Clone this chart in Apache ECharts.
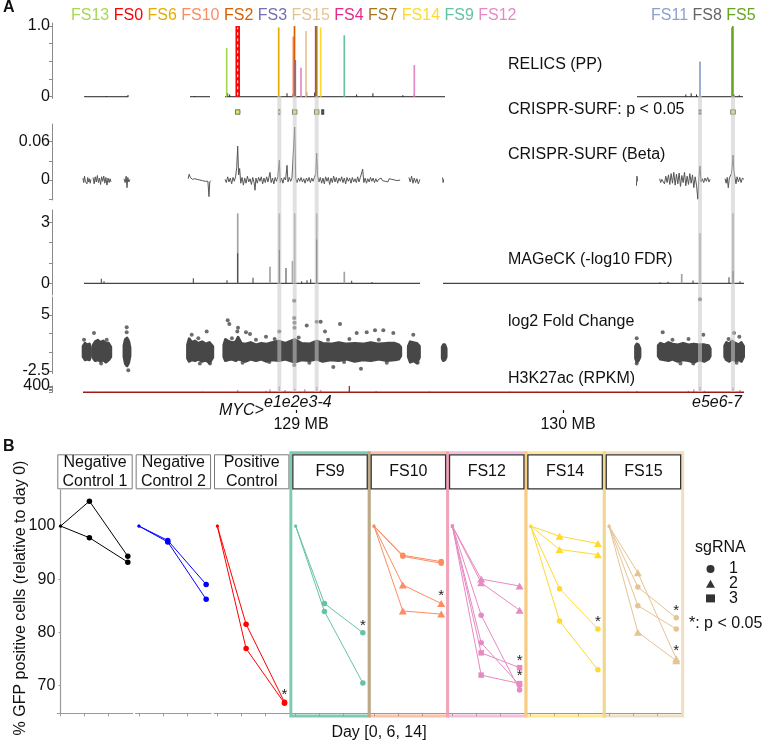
<!DOCTYPE html>
<html><head><meta charset="utf-8">
<script src="https://cdn.jsdelivr.net/npm/echarts@6/dist/echarts.min.js"></script>
<style>html,body{margin:0;padding:0;background:#fff}#c{width:763px;height:740px}</style>
</head><body><div id="c"></div>
<script>
const FONT = '"Liberation Sans", Arial, Helvetica, sans-serif';

// ---------------- Panel A data (genomic position in MB) ----------------
const fsNamesLeft = ['FS13','FS0','FS6','FS10','FS2','FS3','FS15','FS4','FS7','FS14','FS9','FS12'];
const fsNamesRight = ['FS11','FS8','FS5'];
const fsColors = {FS13:'#a6d854',FS0:'#ff0000',FS6:'#e6ab02',FS10:'#fc8d62',FS2:'#d95f02',FS3:'#7570b3',
  FS15:'#e5c494',FS4:'#e7298a',FS7:'#a6761d',FS14:'#ffd92f',FS9:'#66c2a5',FS12:'#e78ac3',
  FS11:'#8da0cb',FS8:'#666666',FS5:'#66a61e'};

const relicsHits = [['FS13',128.7404,0.69],['FS0',128.7817,1.0],['FS6',128.9352,0.98],['FS10',128.9899,0.85],
  ['FS2',128.9944,1.0],['FS3',128.9974,0.52],['FS12',129.0187,0.41],['FS15',129.0375,0.93],['FS4',129.0738,1.0],
  ['FS7',129.0775,1.0],['FS14',129.0925,0.98],['FS9',129.1809,0.87],['FS12',129.4431,0.45],['FS11',130.5131,0.50],
  ['FS8',130.6337,0.98],['FS5',130.6363,1.0]];
const relicsSmall = [[128.2100,0.01],[128.2900,0.01],[128.3708,0.025],[128.6200,0.01],[128.7441,0.05],[128.7516,0.03],
  [128.9663,0.05],[128.9888,0.04],[129.0400,0.07],[129.0700,0.06],[129.2270,0.03],[129.2880,0.05],[129.4000,0.02],
  [129.4430,0.03],[130.4600,0.03],[130.4800,0.05],[130.5000,0.03],[130.6400,0.03],[130.6600,0.02]];
const relicsSegments = [[128.2071,128.3719],[128.6030,128.6779],[128.7341,129.5581],[130.2772,130.6742]];

const surfSigPos = [128.7817,128.9375,128.9951,129.0775,129.1000,130.5131,130.6367];
const surfSigKind = ['sq','thin','sq','sq','dark','small','sq'];

const betaSegments = [
 [[128.202,0.003],[128.205,-0.004],[128.208,0.006],[128.211,-0.002],[128.214,0.001],[128.217,-0.006],[128.220,0.004],[128.223,-0.003],[128.226,0.002],[128.229,-0.005],[128.232,0.001]],
 [[128.240,0.004],[128.244,-0.006],[128.248,0.005],[128.252,-0.003],[128.256,0.007],[128.260,-0.004],[128.264,0.003],[128.268,-0.007],[128.272,0.005],[128.276,-0.002],[128.280,0.006],[128.284,-0.005],[128.288,0.004],[128.292,-0.008],[128.296,0.003],[128.300,-0.004],[128.304,0.002],[128.307,-0.003]],
 [[128.356,0.002],[128.360,-0.004],[128.364,0.006],[128.367,-0.012],[128.370,0.004],[128.374,-0.003],[128.378,0.001]],
 [[128.596,0.002],[128.600,0.009],[128.604,0.004],[128.608,0.006],[128.612,0.001],[128.616,0.003],[128.620,0.002],[128.625,0.004],[128.630,0.001],[128.635,0.003],[128.640,0.000],[128.645,0.002],[128.650,-0.001],[128.655,0.001],[128.660,-0.002],[128.665,0.000],[128.670,-0.002],[128.674,-0.026],[128.677,-0.003],[128.681,-0.001]],
 [[128.734,0.001],[128.739,-0.004],[128.744,0.005],[128.749,-0.003],[128.754,0.003],[128.759,-0.006],[128.764,0.004],[128.769,-0.002],[128.774,0.006],[128.778,0.020],[128.7817,0.053],[128.785,0.008],[128.789,0.018],[128.793,-0.005],[128.798,0.004],[128.803,-0.008],[128.808,0.003],[128.813,-0.005],[128.818,0.006],[128.823,-0.003],[128.828,0.002],[128.833,-0.007],[128.838,0.004],[128.843,-0.004],[128.8464,-0.016],[128.850,0.003],[128.855,-0.005],[128.860,0.004],[128.865,-0.002],[128.870,0.005],[128.875,-0.006],[128.880,0.003],[128.885,-0.004],[128.890,0.005],[128.895,-0.003],[128.9026,0.012],[128.907,-0.004],[128.912,0.003],[128.917,-0.006],[128.922,0.004],[128.927,-0.002],[128.932,0.005],[128.9375,0.031],[128.941,-0.004],[128.946,0.003],[128.951,-0.005],[128.956,0.004],[128.961,0.000],[128.9663,0.023],[128.970,-0.003],[128.975,0.004],[128.980,-0.002],[128.985,0.003],[128.990,0.001],[128.9951,0.083],[128.999,0.002],[129.004,-0.004],[129.009,0.003],[129.014,-0.002],[129.019,0.004],[129.024,-0.003],[129.029,0.002],[129.034,-0.005],[129.039,0.003],[129.044,-0.002],[129.049,0.004],[129.054,-0.004],[129.059,0.003],[129.064,-0.002],[129.069,0.004],[129.074,0.010],[129.0775,0.042],[129.081,0.006],[129.086,-0.003],[129.091,0.004],[129.096,-0.005],[129.101,0.003],[129.106,-0.006],[129.111,0.005],[129.116,-0.002],[129.121,0.004],[129.126,-0.007],[129.131,0.003],[129.136,-0.004],[129.141,0.006],[129.146,-0.003],[129.151,0.004],[129.156,-0.005],[129.161,0.003],[129.166,-0.002],[129.171,0.005],[129.176,-0.004],[129.181,0.003],[129.186,-0.006],[129.191,0.004],[129.196,-0.002],[129.201,0.003],[129.206,-0.005],[129.211,0.004],[129.216,-0.003],[129.221,0.002],[129.226,-0.004],[129.231,0.005],[129.236,-0.003],[129.241,0.004],[129.2498,0.017],[129.254,-0.004],[129.259,0.003],[129.264,-0.005],[129.269,0.002],[129.274,-0.003],[129.279,0.004],[129.284,-0.002],[129.289,0.003],[129.294,-0.004],[129.299,0.002],[129.304,-0.003],[129.309,0.001],[129.314,-0.002],[129.319,0.003],[129.324,-0.001],[129.329,0.002],[129.334,-0.002],[129.339,0.001],[129.344,-0.003],[129.349,0.002],[129.354,0.000],[129.359,0.001],[129.364,-0.001],[129.369,0.000],[129.374,0.001],[129.379,-0.001],[129.384,0.000],[129.390,0.000]],
 [[129.423,0.004],[129.428,-0.003],[129.433,0.006],[129.438,-0.005],[129.443,0.003],[129.448,-0.004],[129.453,0.002],[129.458,-0.006],[129.464,0.001]],
 [[129.549,0.004],[129.551,-0.004],[129.553,0.001]],
 [[130.275,-0.009],[130.277,0.006],[130.279,-0.002]],
 [[130.362,0.002],[130.366,-0.004],[130.370,0.001],[130.375,0.004],[130.380,-0.006],[130.385,0.006],[130.390,-0.004],[130.395,0.008],[130.400,-0.007],[130.405,0.010],[130.410,-0.005],[130.415,0.012],[130.420,-0.008],[130.425,0.009],[130.430,-0.006],[130.435,0.011],[130.440,-0.010],[130.445,0.007],[130.450,-0.004],[130.455,0.012],[130.460,-0.009],[130.465,0.006],[130.470,-0.007],[130.475,0.010],[130.480,-0.005],[130.485,0.008],[130.490,-0.012],[130.495,0.005],[130.500,-0.008],[130.505,-0.030],[130.509,0.004],[130.5131,0.022],[130.517,-0.003],[130.522,0.002],[130.527,-0.004],[130.532,0.003],[130.537,-0.002],[130.542,0.004],[130.547,-0.003],[130.551,0.001]],
 [[130.607,0.002],[130.611,-0.005],[130.615,0.004],[130.619,-0.012],[130.623,0.003],[130.627,0.006],[130.631,0.010],[130.634,0.022],[130.6367,0.039],[130.640,0.015],[130.644,0.004],[130.648,-0.006],[130.652,0.005],[130.657,-0.003],[130.662,0.004],[130.667,-0.004],[130.672,0.003],[130.678,0.001]]
];

const mageckSegments = [[128.2060,129.4644],[129.5506,130.6779]];
const mageckLight = [[128.7817,3.44],[128.9375,3.44],[128.9026,0.82],[128.9869,1.10],[128.9951,3.44],[129.0775,3.44],
  [130.5131,2.46],[130.6367,3.44],[129.1809,0.57],[130.4446,0.46]];
const mageckDark = [[128.7817,1.48],[128.9375,1.64],[128.9625,0.75],[129.0775,2.16],[128.7416,0.15],[128.8390,0.27],
  [128.6154,0.25],[128.2708,0.22],[128.2809,0.10],[129.2086,0.12],[129.0213,0.10],[129.0412,0.15],[129.0551,0.20],
  [129.2846,0.06],[130.4869,0.14],[130.3633,0.05],[130.3933,0.08],[130.6217,0.30],[130.6629,0.10],[130.6367,0.60]];

// log2 fold change: dense guide clouds as [pos, low edge, high edge], plus outlying guides
const fcClouds = [
 [[128.203,-0.6,0.8],[128.210,-1.0,1.2],[128.218,-0.9,1.0],[128.226,-1.0,1.1],[128.230,-0.5,0.6]],
 [[128.240,-0.7,0.9],[128.248,-1.1,1.4],[128.258,-1.0,1.6],[128.268,-1.2,1.3],[128.278,-1.0,1.5],[128.288,-1.3,1.2],[128.298,-1.0,1.2],[128.306,-0.6,0.7]],
 [[128.356,-0.6,0.9],[128.361,-1.5,1.7],[128.367,-1.8,1.9],[128.373,-1.4,1.5],[128.378,-0.5,0.6]],
 [[128.594,-0.8,1.0],[128.600,-1.2,1.8],[128.610,-1.0,1.3],[128.622,-1.1,1.5],[128.634,-0.9,1.2],[128.648,-1.2,1.4],[128.662,-1.0,1.1],[128.676,-1.4,1.3],[128.688,-0.7,0.8]],
 [[128.730,-0.6,1.0],[128.736,-1.1,1.7],[128.745,-1.0,1.5],[128.760,-0.9,1.3],[128.775,-1.1,1.4],[128.783,-0.9,2.0],[128.795,-1.0,1.2],[128.810,-1.2,1.1],[128.830,-0.9,1.3],[128.850,-1.1,1.0],[128.870,-0.9,1.2],[128.890,-1.2,1.1],[128.910,-1.0,1.3],[128.935,-1.1,1.5],[128.960,-0.9,1.2],[128.995,-1.3,1.7],[129.020,-1.0,1.2],[129.050,-1.1,1.1],[129.078,-0.9,1.5],[129.100,-1.2,1.2],[129.130,-1.0,1.1],[129.160,-1.1,1.3],[129.190,-0.9,1.1],[129.220,-1.2,1.2],[129.250,-1.0,1.1],[129.280,-1.1,1.3],[129.310,-0.9,1.1],[129.340,-1.1,1.2],[129.370,-1.0,1.2],[129.385,-0.9,1.0],[129.392,-0.5,0.7]],
 [[129.421,-0.6,0.8],[129.428,-1.3,1.4],[129.440,-1.1,1.3],[129.452,-1.4,1.2],[129.462,-0.7,0.8]],
 [[129.548,-0.8,0.7],[129.552,-1.1,1.0],[129.557,-1.0,1.0],[129.562,-0.6,0.5]],
 [[130.272,-0.8,0.8],[130.277,-1.3,1.1],[130.282,-1.1,1.0],[130.288,-0.6,0.5]],
 [[130.357,-0.5,0.9],[130.365,-0.9,1.2],[130.380,-1.0,1.0],[130.395,-1.1,1.3],[130.410,-0.9,1.1],[130.430,-1.2,1.0],[130.450,-1.0,1.2],[130.470,-1.1,1.0],[130.490,-1.3,1.1],[130.510,-1.0,1.0],[130.530,-1.2,1.0],[130.545,-0.9,0.9],[130.551,-0.5,0.5]],
 [[130.606,-0.6,0.9],[130.612,-1.0,1.3],[130.622,-1.2,1.1],[130.634,-0.9,1.5],[130.646,-1.1,1.2],[130.658,-1.0,1.0],[130.668,-1.2,1.3],[130.676,-0.6,0.8]]
];
const fcOutliers = [[128.7442,4.3],[128.7502,3.8],[128.7802,2.8],[128.7828,3.3],[128.8127,2.7],[128.8277,2.45],[128.6655,2.8],
 [128.6094,2.36],[128.6341,1.9],[128.3659,3.36],[128.3659,2.7],[128.3719,-2.4],[128.2434,2.6],[128.2060,1.7],[128.2910,1.7],
 [128.9375,2.8],[128.9936,6.9],[128.9936,4.6],[128.9944,3.95],[128.9944,3.3],[129.0401,3.6],[129.0775,4.1],[129.0925,4.1],
 [129.1648,3.8],[129.2648,2.7],[129.2273,2.6],[129.3270,2.95],[129.2959,2.95],[129.3644,2.6],[129.1397,-1.96],[129.2434,-2.2],
 [128.9936,-1.7],[128.6779,-1.5],[129.1086,2.8],[128.8876,2.1],[129.4393,2.36],[129.4558,-1.4],[130.2760,1.9],[130.2760,-1.5],
 [130.3734,2.7],[130.4880,-1.5],[130.5131,7.1],[130.5255,2.36],[130.6404,2.6],[130.6603,2.1],
 [128.760,1.9],[128.850,1.7],[128.920,1.8],[129.010,2.0],[129.120,1.7],[129.200,1.8],[129.310,1.7],[130.410,1.7],[130.470,1.8],
 [130.620,1.8],[128.800,-1.4],[128.900,-1.3],[129.050,-1.4],[129.180,-1.3],[129.340,-1.4],[130.440,-1.5],[130.650,-1.4],
 [128.270,-1.5],[128.640,-1.5]];

const h3Span = [128.2022,130.6779];
const h3Peaks = [[128.7817,150],[128.8876,100],[128.9026,200],[128.9375,380],[128.9588,150],[128.9951,250],[129.0326,200],
 [129.0775,350],[129.0925,150],[129.2000,60],[129.3000,80],[129.5000,60],[129.8000,50],[129.9000,40],[130.1000,40],
 [130.2772,100],[130.4700,100],[130.4900,200],[130.5131,350],[130.5300,100],[130.6367,300],[130.6629,150],[128.3000,40],[128.6500,50]];
const h3Strong = [[129.1996,400]];

const highlightPos = [128.9375,128.9951,129.0775,130.5131,130.6367];
const mycPos = 128.7817;
const genomeTicks = [129, 130];

// ---------------- Panel B data ----------------
const sgDays = [0, 6, 14];
// [sgRNA shape, day0, day6, day14, significant]
const negCtrl1 = [['circle',100,104.7,94.3,0],['circle',100,97.8,93.2,0]];
const negCtrl2 = [['circle',100,97.3,89.0,0],['circle',100,97.0,86.2,0]];
const posCtrl  = [['circle',100,81.5,66.8,1],['circle',100,76.9,66.6,0]];
const fs9Data  = [['circle',100,85.4,79.9,1],['circle',100,83.9,70.4,0]];
const fs10Data = [['circle',100,94.5,93.3,0],['circle',100,94.3,93.0,0],['triangle',100,88.9,85.4,1],['triangle',100,84.0,83.4,0]];
const fs12Data = [['triangle',100,90.0,88.7,0],['triangle',100,89.3,84.15,0],['circle',100,83.2,69.1,0],['circle',100,78.0,70.0,0],['square',100,76.1,73.3,1],['square',100,71.9,70.3,1]];
const fs14Data = [['triangle',100,98.1,96.7,0],['triangle',100,95.6,94.6,0],['circle',100,88.2,80.6,1],['circle',100,82.1,72.9,0]];
const fs15Data = [['triangle',100,91.2,75.0,1],['triangle',100,80.0,74.6,0],['circle',100,88.5,82.7,1],['circle',100,85.0,80.6,0]];
const panelLabels = ['Negative\nControl 1','Negative\nControl 2','Positive\nControl','FS9','FS10','FS12','FS14','FS15'];
const panelData = [negCtrl1,negCtrl2,posCtrl,fs9Data,fs10Data,fs12Data,fs14Data,fs15Data];
const panelColors = ['#000000','#0000ff','#ff0000','#66c2a5','#fc8d62','#e78ac3','#ffd92f','#e5c494'];
const panelIsFS = [false,false,false,true,true,true,true,true];
const yTicksB = [70,80,90,100];
const sgLegend = ['1','2','3'];

// ---------------- layout ----------------
const xMin = 128.08614, xMax = 130.70037;
const GL = 52, GW = 698;
const grids = [
  {left:GL,width:GW,top:23,height:75.5},   // 0 RELICS
  {left:GL,width:GW,top:106,height:12},    // 1 SURF p<0.05
  {left:GL,width:GW,top:124,height:76},    // 2 beta
  {left:GL,width:GW,top:210,height:85},    // 3 MAGeCK
  {left:GL,width:GW,top:297,height:76.5},  // 4 log2FC
  {left:GL,width:GW,top:386,height:6.3},   // 5 H3K27ac
  {left:GL,width:GW,top:380,height:30},    // 6 genome axis
  {left:GL,width:GW,top:96,height:296}     // 7 highlights
];
const PL0 = 57.3, PSTEP = 78.35, PW = 75.4, PTOP = 490, PH = 223.3;
for (let i = 0; i < 8; i++) grids.push({left:PL0+i*PSTEP, width:PW, top:PTOP, height:PH});

const axisGrey = '#8a8a8a';
const xAxes = [], yAxes = [];
function yA(gi, min, max, ticks, labels, fmt) {
  return {type:'value', gridIndex:gi, min, max, splitLine:{show:false},
    axisLine:{show:true, lineStyle:{color:axisGrey, width:1}},
    axisTick:{show:true, length:3, customValues:ticks, lineStyle:{color:axisGrey}},
    axisLabel:{customValues:labels, fontSize:16, fontFamily:FONT, color:'#111', margin:2, formatter:fmt}};
}
for (let gi = 0; gi < 8; gi++) {
  if (gi === 6) {
    xAxes.push({type:'value', gridIndex:gi, min:xMin, max:xMax, axisLine:{show:false}, splitLine:{show:false},
      axisTick:{show:true, length:3, customValues:[mycPos].concat(genomeTicks), lineStyle:{color:'#111', width:1.2}},
      axisLabel:{customValues:genomeTicks, fontSize:16, fontFamily:FONT, color:'#111', margin:7,
        padding:[0,0,0,10], formatter:v => v + ' MB'}});
  } else {
    xAxes.push({type:'value', gridIndex:gi, min:xMin, max:xMax, show:false});
  }
}
yAxes.push(yA(0,-0.025,1.043,[0,0.25,0.5,0.75,1],[0,1],v => v === 1 ? '1.0' : '0'));
yAxes.push({type:'value', gridIndex:1, min:-1, max:1, show:false});
yAxes.push(yA(2,-0.0313,0.0877,[-0.03,0,0.03,0.06],[0,0.06],v => v === 0 ? '0' : '0.06'));
yAxes.push(yA(3,-0.575,3.605,[0,1,2,3],[0,3],v => String(v)));
yAxes.push(yA(4,-2.835,7.41,[-2.5,0,2.5,5],[-2.5,5],v => String(v)));
yAxes.push(yA(5,0,400,[0,100,200,300,400],[400],v => String(v)));
yAxes.push({type:'value', gridIndex:6, min:0, max:1, show:false});
yAxes.push({type:'value', gridIndex:7, min:0, max:1, show:false});
for (let i = 0; i < 8; i++) {
  const gi = 8 + i;
  xAxes.push({type:'value', gridIndex:gi, min:-0.69, max:15.02, splitLine:{show:false},
    axisLine:{show:true, lineStyle:{color:'#9a9a9a', width:1.2}},
    axisTick:{show:true, length:3, customValues:[0,5,10], lineStyle:{color:'#9a9a9a'}},
    axisLabel:{show:false}});
  if (i === 0) {
    yAxes.push({type:'value', gridIndex:gi, min:64.7, max:106.8, splitLine:{show:false},
      axisLine:{show:true, lineStyle:{color:'#9a9a9a', width:1.2}},
      axisTick:{show:true, length:2, customValues:yTicksB, lineStyle:{color:'#9a9a9a'}},
      axisLabel:{customValues:yTicksB, fontSize:16, fontFamily:FONT, color:'#111', margin:2}});
  } else {
    yAxes.push({type:'value', gridIndex:gi, min:64.7, max:106.8, show:false});
  }
}

// ---------------- series ----------------
const series = [];
function spikes(gi, data, colorFn, widthFn, z) {
  return {type:'custom', xAxisIndex:gi, yAxisIndex:gi, z, silent:true, animation:false,
    data: data.map((d, k) => ({value:[d[0], d[1], widthFn(d, k)], itemStyle:{color:colorFn(d, k)}})),
    renderItem(params, api) {
      const x = api.value(0), y = api.value(1), w = api.value(2);
      const p0 = api.coord([x, 0]), p1 = api.coord([x, y]);
      return {type:'rect', shape:{x:p0[0]-w/2, y:p1[1], width:w, height:p0[1]-p1[1]},
        style:{fill:api.visual('color')}};
    }};
}
function segLine(gi, pts, color, width, z) {
  return {type:'line', xAxisIndex:gi, yAxisIndex:gi, data:pts, symbol:'none', z, silent:true, animation:false,
    lineStyle:{color, width}};
}
// RELICS
relicsSegments.forEach(s => series.push(segLine(0, [[s[0],0],[s[1],0]], '#222', 1, 2)));
series.push(spikes(0, relicsSmall, () => '#222', () => 1, 3));
const relicsXY = relicsHits.map(h => [h[1], h[2], h[0]]);
series.push(spikes(0, relicsXY, d => fsColors[d[2]], d => d[2] === 'FS0' ? 4.5 : 1.7, 4));
relicsHits.filter(h => h[0] === 'FS0').forEach(h => series.push({type:'line', xAxisIndex:0, yAxisIndex:0, z:5,
  symbol:'none', silent:true, animation:false, data:[[h[1],0.02],[h[1],h[2]-0.02]],
  lineStyle:{color:'#fff', width:1, type:[3,3]}}));
// CRISPR-SURF significance
const sigSize = {sq:[4.5,4.5], thin:[1.5,4.5], dark:[2.5,4.5], small:[2,3.5]};
series.push({type:'scatter', xAxisIndex:1, yAxisIndex:1, silent:true, animation:false, z:4,
  data: surfSigPos.map((p, k) => ({value:[p, 0], symbol:'rect', symbolSize:sigSize[surfSigKind[k]],
    itemStyle:{color: surfSigKind[k] === 'dark' ? '#222' : '#d4dc3c', borderColor:'#333', borderWidth:0.8}}))});
// Beta
betaSegments.forEach(s => series.push(segLine(2, s, '#555', 1, 3)));
// MAGeCK
mageckSegments.forEach(s => series.push(segLine(3, [[s[0],0],[s[1],0]], '#444', 1.2, 2)));
series.push(spikes(3, mageckLight, () => '#a3a3a3', () => 1.7, 3));
series.push(spikes(3, mageckDark, () => '#3c3c3c', () => 1, 4));
// log2 FC clouds
series.push({type:'custom', xAxisIndex:4, yAxisIndex:4, z:3, silent:true, animation:false,
  data: fcClouds.map((c, i) => [c[0][0], 0, i]),
  renderItem(params, api) {
    const c = fcClouds[api.value(2)];
    const up = c.map(p => api.coord([p[0], p[2]]));
    const lo = c.slice().reverse().map(p => api.coord([p[0], p[1]]));
    return {type:'polygon', shape:{points:up.concat(lo)},
      style:{fill:'#474747', stroke:'#474747', lineWidth:3, lineJoin:'round'}};
  }});
series.push({type:'scatter', xAxisIndex:4, yAxisIndex:4, z:4, silent:true, animation:false,
  symbolSize:4, itemStyle:{color:'#474747'}, data:fcOutliers});
// H3K27ac
series.push(spikes(5, h3Peaks, () => '#d8a0a0', () => 1.5, 3));
series.push(spikes(5, h3Strong, () => '#9e1b1b', () => 1.2, 4));
series.push(segLine(5, [[h3Span[0],0],[h3Span[1],0]], '#9e1b1b', 1.4, 5));
// highlight bands
series.push({type:'custom', xAxisIndex:7, yAxisIndex:7, z:20, silent:true, animation:false,
  data: highlightPos.map(p => [p, 0]),
  renderItem(params, api) {
    const cs = params.coordSys;
    const px = api.coord([api.value(0), 0])[0];
    return {type:'rect', shape:{x:px-2, y:cs.y, width:4, height:cs.height},
      style:{fill:'rgba(200,200,200,0.55)'}};
  }});

// Panel B lines
const symMap = {circle:'circle', triangle:'triangle', square:'rect'};
const sizeMap = {circle:5.5, triangle:[8,7], square:5.5};
const starLabel = {show:true, formatter:'*', position:'top', distance:-3, fontSize:15, fontFamily:FONT, color:'#222'};
panelData.forEach((guides, i) => {
  guides.forEach(g => {
    const shape = g[0], vals = g.slice(1, 4), sig = g[4];
    series.push({type:'line', xAxisIndex:8+i, yAxisIndex:8+i, z:5, silent:true, animation:false,
      symbol:symMap[shape], showSymbol:true,
      symbolSize:(v, prm) => prm.dataIndex === 0 ? 3 : sizeMap[shape],
      lineStyle:{color:panelColors[i], width:1}, itemStyle:{color:panelColors[i]},
      data: vals.map((v, k) => {
        const d = {value:[sgDays[k], v]};
        if (k === 2 && sig) d.label = starLabel;
        return d;
      })});
  });
});
// legend dummy series
const legendIcons = ['circle','triangle','rect'];
sgLegend.forEach((n, k) => series.push({type:'scatter', name:n, xAxisIndex:8, yAxisIndex:8, data:[],
  symbol:legendIcons[k], itemStyle:{color:'#000'}}));

// ---------------- graphics ----------------
const graphic = [];
function T(text, x, y, o) {
  o = o || {};
  graphic.push({type:'text', x, y, rotation:o.rot || 0, z:30, silent:true,
    style:{text, fill:o.color || '#111', align:o.align || 'left', verticalAlign:'middle',
      font:(o.style || '') + ' ' + (o.size || 16) + 'px ' + FONT, lineHeight:o.lh}});
}
T('A', 3, 8, {style:'bold'});
T('B', 3, 447, {style:'bold'});
T('RELICS (PP)', 508, 65);
T('CRISPR-SURF: p < 0.05', 508, 110);
T('CRISPR-SURF (Beta)', 508, 155);
T('MAGeCK (-log10 FDR)', 508, 260);
T('log2 Fold Change', 508, 322);
T('H3K27ac (RPKM)', 508, 379);
T('MYC>', 219, 411, {style:'italic'});
T('e1e2e3-4', 264, 403, {style:'italic'});
T('e5e6-7', 692, 403, {style:'italic'});
T('% GFP positive cells (relative to day 0)', 21, 598, {align:'center', rot:Math.PI/2});
T('Day [0, 6, 14]', 379, 733, {align:'center'});
T('sgRNA', 695, 548);
T('*: p < 0.05', 689, 624);
for (let i = 0; i < 8; i++) {
  const L = PL0 + i * PSTEP;
  if (panelIsFS[i]) {
    graphic.push({type:'rect', z:1, silent:true, shape:{x:L-1.5, y:452.8, width:PW+3, height:716-452.8},
      style:{fill:'none', stroke:panelColors[i], lineWidth:3, opacity: i === 3 ? 0.85 : 0.55}});
  }
  graphic.push({type:'rect', z:2, silent:true, shape:{x:L+0.5, y:454.8, width:PW-1, height:34},
    style:{fill:'#fff', stroke: panelIsFS[i] ? '#333' : '#7a7a7a', lineWidth: panelIsFS[i] ? 1.3 : 1}});
  T(panelLabels[i], L + PW/2, 472, {align:'center', lh:19.4});
}

const rich = {};
function richText(names) {
  return names.map(n => { rich[n] = {color:fsColors[n], fontSize:16, fontFamily:FONT, fontWeight:'normal'}; return '{' + n + '|' + n + '}'; }).join(' ');
}
const titleLeft = richText(fsNamesLeft);
const titleRight = richText(fsNamesRight);

const option = {
  animation:false,
  backgroundColor:'#fff',
  title:[
    {left:66, top:3, text:titleLeft, textStyle:{rich, fontWeight:'normal', fontSize:16}},
    {left:646, top:3, text:titleRight, textStyle:{rich, fontWeight:'normal', fontSize:16}}
  ],
  legend:{data:sgLegend.map((n,k) => ({name:n, icon:legendIcons[k]})), orient:'vertical', left:701, top:556,
    itemWidth:9, itemHeight:8, itemGap:-1.3, selectedMode:false,
    formatter:n => '  ' + n, textStyle:{fontSize:16, fontFamily:FONT, color:'#111'}},
  grid:grids, xAxis:xAxes, yAxis:yAxes, series, graphic
};
const chart = echarts.init(document.getElementById('c'), null, {renderer:'canvas'});
chart.setOption(option);
</script></body></html>
